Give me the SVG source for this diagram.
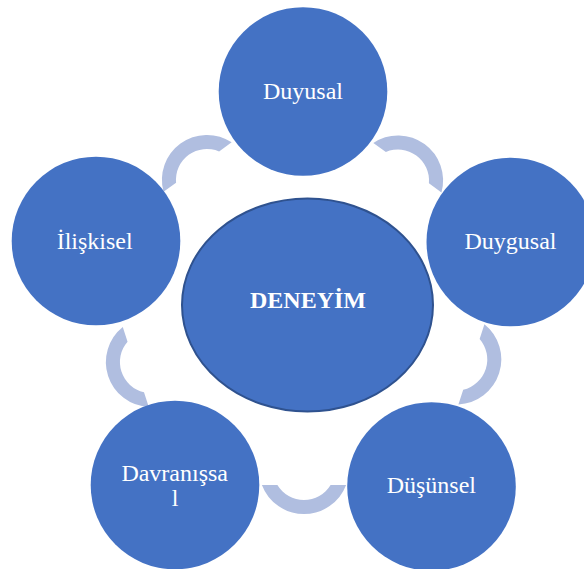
<svg xmlns="http://www.w3.org/2000/svg" width="584" height="569" viewBox="0 0 584 569">
  <defs>
    <style>
      .node { fill: #4472C4; }
      .hub { fill: #4472C4; stroke: #2F528F; stroke-width: 2; }
      .arc { fill: #B0BEE0; }
      .label { font-family: "Liberation Serif", "Times New Roman", serif; font-size: 24px; fill: #FFFFFF; text-anchor: middle; }
      .hub-label { font-family: "Liberation Serif", "Times New Roman", serif; font-size: 24px; font-weight: bold; fill: #FFFFFF; text-anchor: middle; }
    </style>
    <!-- block arc bulging toward +y; rotated into place around the cycle -->
    <path id="blockArc" d="M -42.1 16 A 45 45 0 0 0 42.1 16 L 26.6 16 A 31 31 0 0 1 -26.6 16 Z"/>
  </defs>

  <rect width="584" height="569" fill="#FFFFFF"/>

  <g id="connectors">
    <use href="#blockArc" class="arc" transform="translate(207 180) rotate(144)"/>
    <use href="#blockArc" class="arc" transform="translate(398 180.6) rotate(-144)"/>
    <use href="#blockArc" class="arc" transform="translate(456.2 359.4) rotate(-72)"/>
    <use href="#blockArc" class="arc" transform="translate(304 469) rotate(0)"/>
    <use href="#blockArc" class="arc" transform="translate(151 362) rotate(72)"/>
  </g>

  <g id="hub">
    <ellipse class="hub" cx="307.5" cy="305" rx="125.5" ry="106.5"/>
    <text class="hub-label" x="308" y="308">DENEYİM</text>
  </g>

  <g id="duyusal">
    <circle class="node" cx="303" cy="91.5" r="84.3"/>
    <text class="label" x="303" y="99">Duyusal</text>
  </g>

  <g id="duygusal">
    <circle class="node" cx="510.8" cy="242" r="84.3"/>
    <text class="label" x="510.5" y="249.3">Duygusal</text>
  </g>

  <g id="dusunsel">
    <circle class="node" cx="431.5" cy="486.5" r="84.3"/>
    <text class="label" x="431.3" y="493.3">Düşünsel</text>
  </g>

  <g id="davranissal">
    <circle class="node" cx="175" cy="485" r="84.3"/>
    <text class="label" x="174.7" y="481">Davranışsa</text>
    <text class="label" x="175" y="506">l</text>
  </g>

  <g id="iliskisel">
    <circle class="node" cx="96" cy="241" r="84.3"/>
    <text class="label" x="94.7" y="249.3">İlişkisel</text>
  </g>
</svg>
